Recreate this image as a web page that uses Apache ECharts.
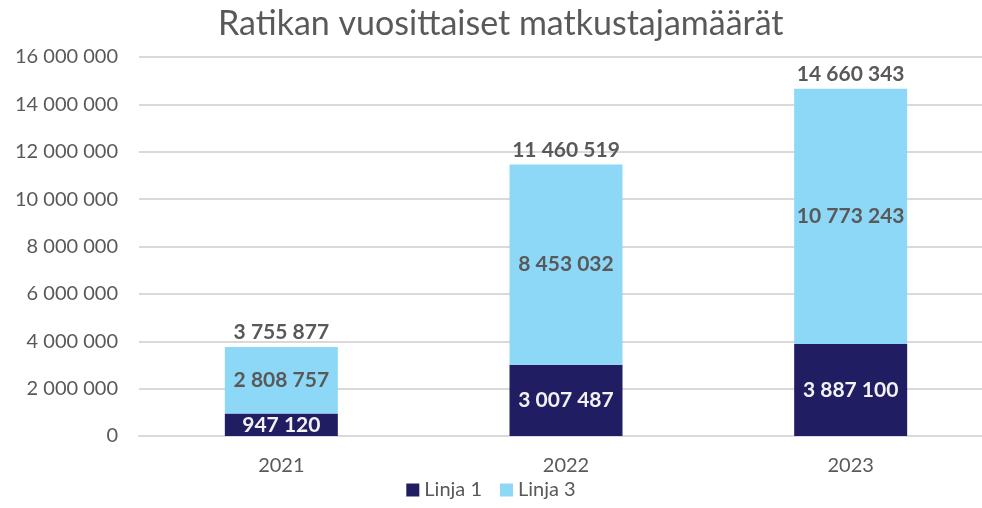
<!DOCTYPE html>
<html>
<head>
<meta charset="utf-8">
<script src="https://cdn.jsdelivr.net/npm/echarts@6/dist/echarts.min.js"></script>
<style>
  html, body { margin: 0; padding: 0; background: #fff; }
  #main { width: 982px; height: 508px; }
</style>
</head>
<body>
<div id="main"></div>
<script>
var years = ['2021', '2022', '2023'];
var linja1 = [947120, 3007487, 3887100];
var linja3 = [2808757, 8453032, 10773243];
var totals = [3755877, 11460519, 14660343];

// välilyönti tuhaterottimena
function fmt(v) {
  return String(v).replace(/\B(?=(\d{3})+(?!\d))/g, ' ');
}

var chart = echarts.init(document.getElementById('main'));
var font = 'Lato, "Open Sans", sans-serif';

var option = {
  animation: false,
  title: {
    text: 'Ratikan vuosittaiset matkustajamäärät',
    left: 213,
    top: 2,
    textStyle: { fontFamily: font, fontSize: 34, fontWeight: 'normal', color: '#595959' }
  },
  legend: {
    data: ['Linja 1', 'Linja 3'],
    bottom: 3,
    left: 'center',
    icon: 'rect',
    itemWidth: 13,
    itemHeight: 13,
    itemGap: 18,
    textStyle: { fontFamily: font, fontSize: 20, color: '#595959' }
  },
  grid: { left: 139, top: 57, width: 854, height: 379, containLabel: false, outerBoundsMode: 'none' },
  xAxis: {
    type: 'category',
    data: years,
    axisLine: { lineStyle: { color: '#d9d9d9', width: 2 } },
    axisTick: { show: false },
    axisLabel: { fontFamily: font, fontSize: 20, color: '#595959', margin: 20 }
  },
  yAxis: {
    type: 'value',
    min: 0,
    max: 16000000,
    interval: 2000000,
    axisLine: { show: false },
    axisTick: { show: false },
    splitLine: { lineStyle: { color: '#d9d9d9', width: 2 } },
    axisLabel: { fontFamily: font, fontSize: 20, color: '#595959', margin: 21, formatter: fmt }
  },
  series: [
    {
      name: 'Linja 1',
      type: 'bar',
      stack: 'all',
      barWidth: 113,
      data: linja1,
      itemStyle: { color: '#211D62' },
      label: {
        show: true, position: 'inside', fontFamily: font, fontSize: 21, fontWeight: 'bold',
        color: '#f2f2f2', formatter: function (p) { return fmt(p.value); }
      }
    },
    {
      name: 'Linja 3',
      type: 'bar',
      stack: 'all',
      data: linja3,
      itemStyle: { color: '#8DD7F7' },
      label: {
        show: true, position: 'inside', fontFamily: font, fontSize: 21, fontWeight: 'bold',
        color: '#595959', formatter: function (p) { return fmt(p.value); }
      }
    },
    {
      name: 'Yhteensä',
      type: 'bar',
      stack: 'all',
      data: years.map(function () { return 0; }),
      itemStyle: { color: 'transparent' },
      label: {
        show: true, position: 'top', distance: 4, fontFamily: font, fontSize: 21, fontWeight: 'bold',
        color: '#595959', formatter: function (p) { return fmt(totals[p.dataIndex]); }
      }
    }
  ]
};

chart.setOption(option);
</script>
</body>
</html>
